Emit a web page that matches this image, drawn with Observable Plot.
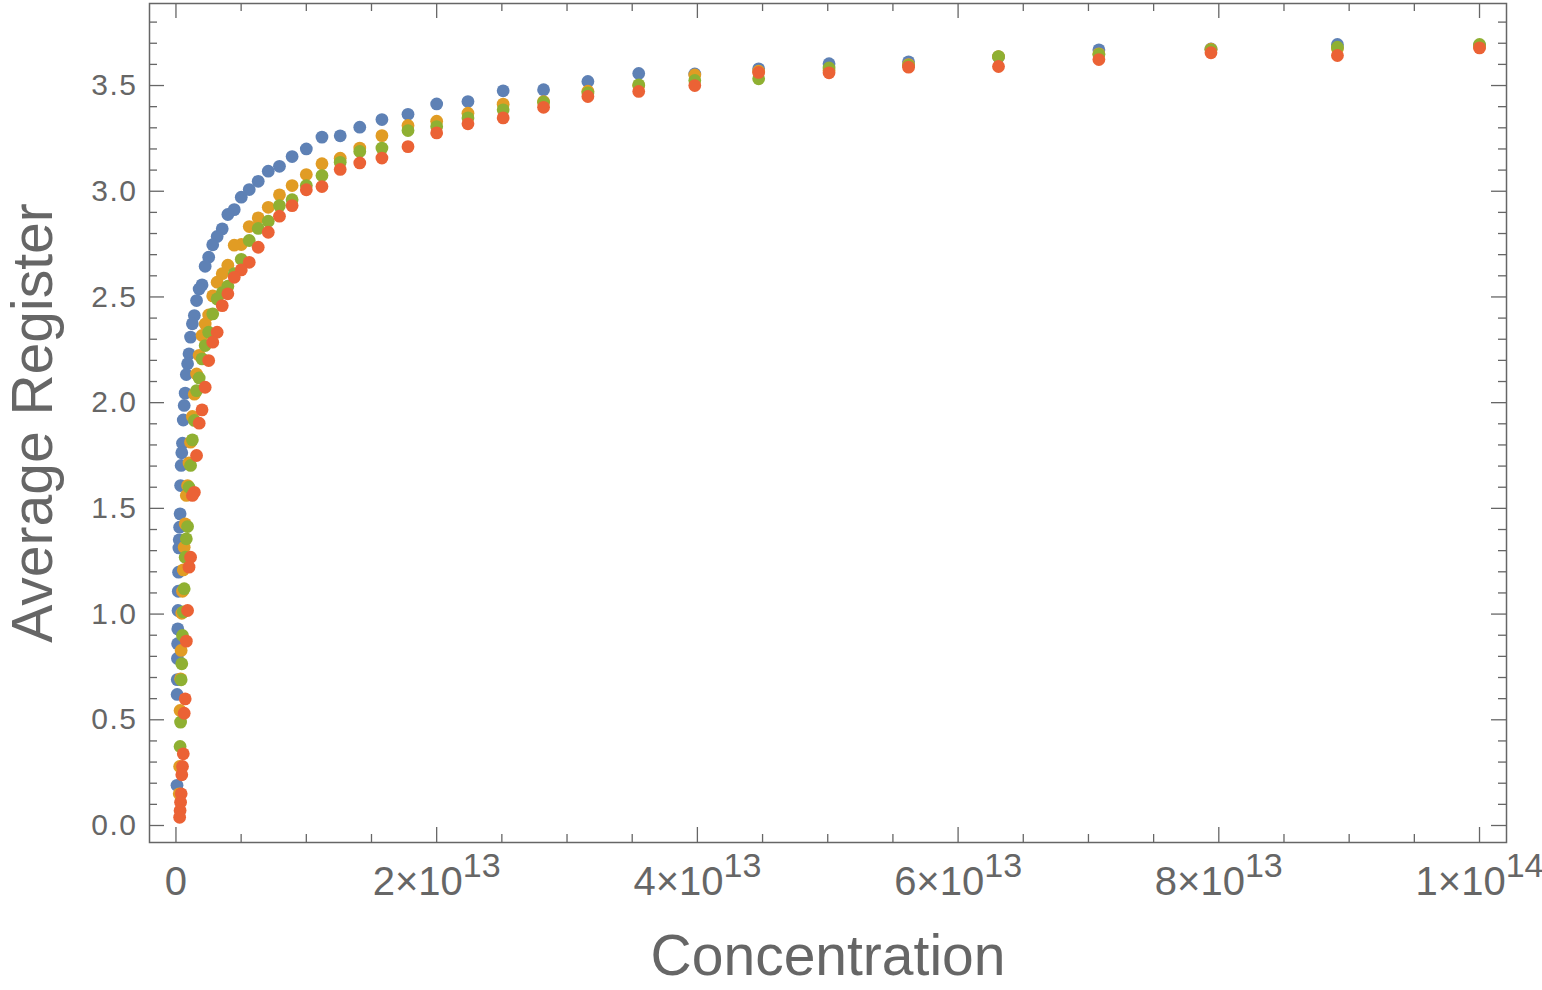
<!DOCTYPE html>
<html><head><meta charset="utf-8">
<script src="https://cdn.jsdelivr.net/npm/d3@7"></script>
<script src="https://cdn.jsdelivr.net/npm/@observablehq/plot@0.6"></script>
<style>body{margin:0;background:#fff;} #chart svg{display:block;}</style>
</head><body><div id="chart"></div>
<script>
// Concentrations (log-spaced, highest first), shared by all series
const concentration = [
  1.00e14, 8.91e13, 7.94e13, 7.08e13, 6.31e13, 5.62e13, 5.01e13, 4.47e13, 3.98e13, 3.55e13,
  3.16e13, 2.82e13, 2.51e13, 2.24e13, 2.00e13, 1.78e13, 1.58e13, 1.41e13, 1.26e13, 1.12e13,
  1.00e13, 8.91e12, 7.94e12, 7.08e12, 6.31e12, 5.62e12, 5.01e12, 4.47e12, 3.98e12, 3.55e12,
  3.16e12, 2.82e12, 2.51e12, 2.24e12, 2.00e12, 1.78e12, 1.58e12, 1.41e12, 1.26e12, 1.12e12,
  1.00e12, 8.91e11, 7.94e11, 7.08e11, 6.31e11, 5.62e11, 5.01e11, 4.47e11, 3.98e11, 3.55e11,
  3.16e11, 2.82e11, 2.51e11, 2.24e11, 2.00e11, 1.78e11, 1.58e11, 1.41e11, 1.26e11, 1.12e11,
  1.00e11, 8.91e10, 7.94e10
];
const seriesNames = ["Series 1", "Series 2", "Series 3", "Series 4"];
const seriesColors = ["#5E81B5", "#E19C24", "#8FB032", "#EB6235"];
const blueValues = [
  3.69, 3.694, 3.673, 3.669, 3.635, 3.612, 3.603, 3.579, 3.555, 3.557,
  3.519, 3.48, 3.475, 3.424, 3.413, 3.364, 3.339, 3.303, 3.262, 3.256,
  3.20, 3.164, 3.118, 3.095, 3.047, 3.008, 2.972, 2.913, 2.89, 2.822,
  2.786, 2.747, 2.688, 2.645, 2.557, 2.538, 2.483, 2.412, 2.373, 2.31,
  2.231, 2.184, 2.133, 2.045, 1.987, 1.918, 1.808, 1.763, 1.703, 1.608,
  1.474, 1.411, 1.351, 1.313, 1.198, 1.108, 1.017, 0.93, 0.86, 0.79,
  0.69, 0.62, 0.19
];
const orangeValues = [
  3.685, 3.675, 3.672, 3.65, 3.637, 3.599, 3.571, 3.568, 3.55, 3.50,
  3.473, 3.424, 3.412, 3.369, 3.331, 3.311, 3.263, 3.204, 3.156, 3.13,
  3.079, 3.027, 2.983, 2.924, 2.874, 2.833, 2.748, 2.745, 2.65, 2.61,
  2.57, 2.505, 2.415, 2.372, 2.318, 2.224, 2.136, 2.04, 1.935, 1.813,
  1.715, 1.608, 1.561, 1.427, 1.316, 1.209, 1.108, 1.004, 0.828, 0.694,
  0.544, 0.279, 0.15
];
const greenValues = [
  3.694, 3.681, 3.669, 3.647, 3.637, 3.595, 3.583, 3.532, 3.524, 3.503,
  3.465, 3.421, 3.385, 3.347, 3.306, 3.287, 3.204, 3.188, 3.137, 3.074,
  3.027, 2.96, 2.932, 2.858, 2.824, 2.767, 2.678, 2.61, 2.551, 2.52,
  2.491, 2.42, 2.333, 2.27, 2.207, 2.117, 2.057, 1.916, 1.824, 1.703,
  1.60, 1.414, 1.356, 1.269, 1.12, 1.01, 0.899, 0.765, 0.689, 0.489,
  0.374
];
const redValues = [
  3.678, 3.642, 3.655, 3.623, 3.59, 3.587, 3.56, 3.562, 3.50, 3.472,
  3.448, 3.397, 3.347, 3.319, 3.276, 3.211, 3.157, 3.134, 3.103, 3.022,
  3.007, 2.932, 2.882, 2.806, 2.735, 2.664, 2.628, 2.593, 2.515, 2.459,
  2.333, 2.286, 2.199, 2.073, 1.966, 1.903, 1.75, 1.576, 1.561, 1.269,
  1.222, 1.017, 0.872, 0.599, 0.531, 0.339, 0.279, 0.24, 0.15, 0.11,
  0.071, 0.039
];
const xMajorTicks = [0, 2e13, 4e13, 6e13, 8e13, 1e14];
const xTickLabels = ["0", "2×10^13", "4×10^13", "6×10^13", "8×10^13", "1×10^14"];
const xMinorTicks = [5e12, 1e13, 1.5e13, 2.5e13, 3e13, 3.5e13, 4.5e13, 5e13, 5.5e13, 6.5e13, 7e13, 7.5e13, 8.5e13, 9e13, 9.5e13];
const yMajorTicks = [0, 0.5, 1.0, 1.5, 2.0, 2.5, 3.0, 3.5];
const yMinorTicks = [0.1, 0.2, 0.3, 0.4, 0.6, 0.7, 0.8, 0.9, 1.1, 1.2, 1.3, 1.4, 1.6, 1.7, 1.8, 1.9,
  2.1, 2.2, 2.3, 2.4, 2.6, 2.7, 2.8, 2.9, 3.1, 3.2, 3.3, 3.4, 3.6, 3.7, 3.8];
const xTitle = "Concentration";
const yTitle = "Average Register";

const allValues = [blueValues, orangeValues, greenValues, redValues];
const points = [];
allValues.forEach((vals, s) => vals.forEach((v, i) => {
  if (v != null) points.push({series: seriesNames[s], concentration: concentration[i], value: v});
}));

const W = 1542, H = 990;
const mL = 149, mR = 36, mT = 3, mB = 148;
const plotW = W - mL - mR, plotH = H - mT - mB;
const majorLen = 15, minorLen = 8;
const gray = "#666666";
const font = "'Liberation Sans', Arial, sans-serif";

const chart = Plot.plot({
  width: W, height: H,
  marginLeft: mL, marginRight: mR, marginTop: mT, marginBottom: mB,
  style: {background: "#fff", fontFamily: font},
  x: {domain: [-2.03e12, 1.0207e14], axis: null},
  y: {domain: [-0.0804, 3.888], axis: null},
  color: {domain: seriesNames, range: seriesColors},
  marks: [
    Plot.dot(points, {x: "concentration", y: "value", fill: "series", r: 6.4, stroke: "none"}),
    // frame ticks pointing inward on all four sides
    Plot.tickX(xMajorTicks, {x: d => d, insetTop: plotH - majorLen, stroke: gray, strokeWidth: 1.3}),
    Plot.tickX(xMinorTicks, {x: d => d, insetTop: plotH - minorLen, stroke: gray, strokeWidth: 1.3}),
    Plot.tickX(xMajorTicks, {x: d => d, insetBottom: plotH - majorLen, stroke: gray, strokeWidth: 1.3}),
    Plot.tickX(xMinorTicks, {x: d => d, insetBottom: plotH - minorLen, stroke: gray, strokeWidth: 1.3}),
    Plot.tickY(yMajorTicks, {y: d => d, insetRight: plotW - majorLen, stroke: gray, strokeWidth: 1.3}),
    Plot.tickY(yMinorTicks, {y: d => d, insetRight: plotW - minorLen, stroke: gray, strokeWidth: 1.3}),
    Plot.tickY(yMajorTicks, {y: d => d, insetLeft: plotW - majorLen, stroke: gray, strokeWidth: 1.3}),
    Plot.tickY(yMinorTicks, {y: d => d, insetLeft: plotW - minorLen, stroke: gray, strokeWidth: 1.3}),
    Plot.frame({stroke: gray, strokeWidth: 1.5}),
    Plot.axisY({ticks: yMajorTicks, tickSize: 0, tickPadding: 12, tickFormat: d3.format(".1f"),
      fontSize: 30, fill: gray, label: null}),
    Plot.axisX({ticks: xMajorTicks, tickSize: 0, tickPadding: 24, fontSize: 40, fill: gray, label: null,
      tickFormat: d => xTickLabels[xMajorTicks.indexOf(d)]}),
    Plot.text([xTitle], {frameAnchor: "bottom", dy: 114, fontSize: 57, lineAnchor: "middle", textAnchor: "middle", fill: gray}),
    Plot.text([yTitle], {frameAnchor: "left", dx: -116, rotate: -90, fontSize: 57, lineAnchor: "middle", textAnchor: "middle", fill: gray})
  ]
});

// superscripts for the x tick labels
const svgns = "http://www.w3.org/2000/svg";
chart.querySelectorAll('g[aria-label="x-axis tick label"] text').forEach(t => {
  const parts = t.textContent.split("^");
  if (parts.length === 2) {
    t.textContent = parts[0];
    const ts = document.createElementNS(svgns, "tspan");
    ts.setAttribute("dy", "-18");
    ts.setAttribute("font-size", "34");
    ts.textContent = parts[1];
    t.appendChild(ts);
  }
});
chart.querySelectorAll('g[aria-label="y-axis tick label"] text').forEach(t => {
  t.setAttribute("letter-spacing", "1.5");
});
document.getElementById("chart").appendChild(chart);
</script>
</body></html>
